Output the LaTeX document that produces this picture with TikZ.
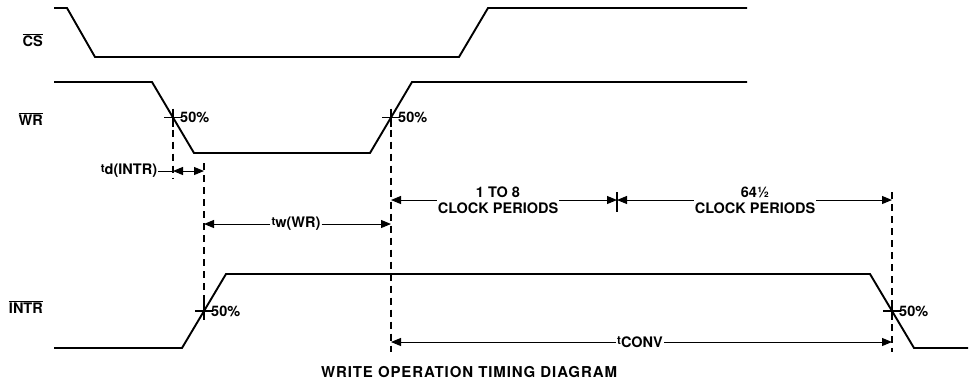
\documentclass[tikz,border=0pt]{standalone}
\usepackage{fontspec}
\setmainfont{TeX Gyre Heros}
\newfontfamily\titlefont[LetterSpace=6]{TeX Gyre Heros}
\usetikzlibrary{arrows.meta,calc}

\begin{document}
\begin{tikzpicture}[x=1pt,y=-1pt,
  sig/.style={line width=1.9pt},
  lbl/.style={font=\bfseries\fontsize{14.5}{16}\selectfont, inner sep=1pt},
  guide/.style={line width=1.3pt, dash pattern=on 7pt off 5pt},
  dimline/.style={line width=1pt, -{Triangle[length=10pt,width=8pt]}},
  dimboth/.style={line width=1pt, {Triangle[length=10pt,width=8pt]}-{Triangle[length=10pt,width=8pt]}},
  mark50/.style={line width=1.3pt}]
  \useasboundingbox (0,0) rectangle (973,384);

  % Signal names
  \node[lbl,anchor=east] (cs) at (44,40) {$\overline{\mbox{\bfseries CS}}$};
  \node[lbl,anchor=east] (wr) at (44,119) {$\overline{\mbox{\bfseries WR}}$};
  \node[lbl,anchor=east] (intr) at (44,307) {$\overline{\mbox{\bfseries INTR}}$};

  % Waveforms
  \draw[sig] (54,8) -- (67,8) -- (95,57) -- (459,57) -- (488,8) -- (747,8);
  \draw[sig] (54,82) -- (152,82) coordinate (wr1) -- (194,153) coordinate (wr2)
    -- (370,153) coordinate (wr3) -- (412,82) coordinate (wr4) -- (747,82);
  \draw[sig] (54,348) -- (182,348) coordinate (in1) -- (226,274) coordinate (in2)
    -- (870,274) coordinate (in3) -- (914,348) coordinate (in4) -- (968,348);

  % 50% points
  \coordinate (p1) at ($(wr1)!0.5!(wr2)$);
  \coordinate (p2) at ($(wr3)!0.5!(wr4)$);
  \coordinate (p3) at ($(in1)!0.5!(in2)$);
  \coordinate (p4) at ($(in3)!0.5!(in4)$);
  \foreach \p in {p1,p2,p3,p4} {
    \draw[mark50] ($(\p)+(-9,0)$) -- ($(\p)+(9,0)$);
    \draw[mark50] ($(\p)+(0,-9)$) -- ($(\p)+(0,9)$);
    \node[lbl,anchor=west] at ($(\p)+(6,0)$) {50\%};
  }

  % Dashed guides
  \draw[guide] (p1) -- (p1 |- 0,178) coordinate (g1);
  \draw[guide] (p3 |- 0,163) -- (p3);
  \draw[guide] (p2) -- (p2 |- 0,352);
  \draw[guide] (p4 |- 0,192) -- (p4 |- 0,352);
  \draw[line width=1.3pt] (617,192) -- (617,212);

  % Timing intervals
  \node[lbl] (td) at (129,171) {\raisebox{2pt}{\fontsize{11.5}{11}\selectfont t}d(INTR)};
  \draw[line width=1pt] (td.east) -- (p1 |- td);
  \draw[dimboth] (p1 |- td) -- (p3 |- td);

  \node[lbl] (tw) at (296,224) {\raisebox{2pt}{\fontsize{11.5}{11}\selectfont t}w(WR)};
  \draw[dimline] (tw.west) -- (p3 |- tw);
  \draw[dimline] (tw.east) -- (p2 |- tw);

  \node[lbl,align=center] (clk1) at (498,200) {1 TO 8\\CLOCK PERIODS};
  \draw[dimline] (clk1.west) -- (p2 |- clk1);
  \draw[dimline] (clk1.east) -- (617,200);

  \node[lbl,align=center] (clk2) at (755,200) {64½\\CLOCK PERIODS};
  \draw[dimline] (clk2.west) -- (617,200);
  \draw[dimline] (clk2.east) -- (p4 |- clk2);

  \node[lbl] (tc) at (640,342) {\raisebox{3pt}{\fontsize{11.5}{11}\selectfont t}CONV};
  \draw[dimline] (tc.west) -- (p2 |- tc);
  \draw[dimline] (tc.east) -- (p4 |- tc);

  % Title
  \node[lbl,font=\titlefont\bfseries\fontsize{15}{17}\selectfont] (title) at (469,372) {WRITE OPERATION TIMING DIAGRAM};
\end{tikzpicture}
\end{document}
